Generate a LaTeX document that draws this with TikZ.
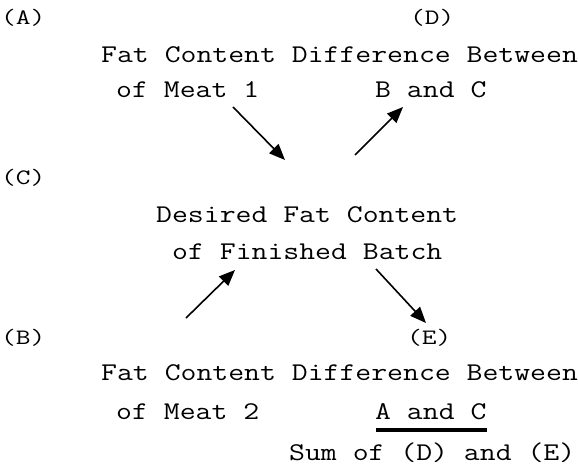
\documentclass[tikz,border=0pt]{standalone}
\usepackage{fontspec}
\usepackage{graphicx}
\usetikzlibrary{arrows.meta,calc}
\newcommand{\mtxt}[1]{\scalebox{1.21}[1]{#1}}
\newcommand{\ltxt}[1]{\scalebox{1.3}[1]{#1}}
\begin{document}
\begin{tikzpicture}[x=1pt,y=-1pt,
  txt/.style={inner sep=0pt,anchor=base west,font=\ttfamily\fontsize{25.5}{30}\selectfont},
  lab/.style={inner sep=0pt,anchor=base west,font=\ttfamily\fontsize{22}{26}\selectfont},
  arr/.style={line width=1.6pt,-{Triangle[length=16pt,width=13pt]}},
  uline/.style={line width=4pt}]
\fill[white] (0,0) rectangle (578,468);
\useasboundingbox (0,0) rectangle (578,468);
% labels
\node[lab] (la) at (1,25) {\ltxt{(A)}};
\node[lab] (ld) at (410,25) {\ltxt{(D)}};
\node[lab] (lc) at (1,184) {\ltxt{(C)}};
\node[lab] (lb) at (1,344) {\ltxt{(B)}};
\node[lab] (le) at (407,344) {\ltxt{(E)}};
% top block
\node[txt] (t1) at (101,63) {\mtxt{Fat Content Difference Between}};
\node[txt] (m1) at (116,98) {\mtxt{of Meat 1}};
\node[txt] (bc) at (375,98) {\mtxt{B and C}};
% middle
\node[txt] (d1) at (156,222) {\mtxt{Desired Fat Content}};
\node[txt] (d2) at (172,259) {\mtxt{of Finished Batch}};
% bottom block
\node[txt] (t2) at (101,380) {\mtxt{Fat Content Difference Between}};
\node[txt] (m2) at (116,419) {\mtxt{of Meat 2}};
\node[txt] (ac) at (375,419) {\mtxt{A and C}};
\node[txt] (sum) at (289,460) {\mtxt{Sum of (D) and (E)}};
\draw[uline] ($(ac.base west)+(1,11)$) -- ($(ac.base east)+(0,11)$);
% arrow endpoints
\coordinate (a1s) at (233,107); \coordinate (a1e) at (285,160);
\coordinate (a2s) at (355,155); \coordinate (a2e) at (403,107);
\coordinate (a3s) at (186,318); \coordinate (a3e) at (235,270);
\coordinate (a4s) at (376,269); \coordinate (a4e) at (426,323);
\draw[arr] (a1s) -- (a1e);
\draw[arr] (a2s) -- (a2e);
\draw[arr] (a3s) -- (a3e);
\draw[arr] (a4s) -- (a4e);
\end{tikzpicture}
\end{document}
